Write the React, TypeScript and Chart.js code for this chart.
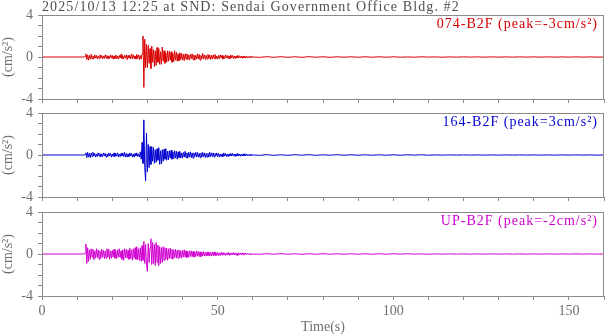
import React, { useEffect, useRef } from "react";
import { Chart, registerables } from "chart.js";

Chart.register(...registerables);

const TITLE = "2025/10/13 12:25 at SND: Sendai Government Office Bldg. #2";
const LABELS = ["074-B2F (peak=-3cm/s²)", "164-B2F (peak=3cm/s²)", "UP-B2F (peak=-2cm/s²)"];
const COLORS = ["#d80000", "#0000d0", "#d000d0"];
const X_TICK_LABELS = [0, 50, 100, 150];
const Y_TICK_LABELS = [-4, 0, 4];

// samples every 0.25 s from t = 12 s to t = 60 s (4 per row-second)
const ACTIVE_START = 12;
const ACTIVE_STEP = 0.25;
const ns074 = [
  0, 0.05, 0.3, -0.25, 0.2, -0.3, 0.15, -0.2, 0.25, -0.15, 0.1, -0.2, 0.2, -0.1, 0.15, -0.2,
  0.1, -0.15, 0.2, -0.1, 0.15, -0.2, 0.1, -0.15, 0.2, -0.1, 0.15, -0.2, 0.1, -0.15, 0.2, -0.1,
  0.15, -0.2, 0.1, -0.15, 0.2, -0.15, 0.1, -0.2, 0.15, -0.1, 0.25, -0.15, 0.1, -0.2, 0.15, -0.1,
  0.2, -0.25, 0.15, -0.1, 0.15, -0.2, 0.3, -0.15, 0.2, -0.15, 0.1, -0.2, 0.25, -0.15, 0.2, -0.25,
  0.15, -0.2, 0.3, 2.0, -2.9, 1.7, -1.0, 1.2, -1.0, 1.1, -0.6, 0.8, -1.1, 1.05, -0.5, 0.7,
  -0.9, 0.6, -0.8, 0.9, -0.5, 0.8, -0.7, 0.5, -0.7, 0.95, -0.4, 0.6, -0.6, 0.4, -0.5, 0.6,
  -0.4, 0.55, -0.3, 0.5, -0.5, 0.35, -0.45, 0.6, -0.3, 0.45, -0.4, 0.3, -0.35, 0.4, -0.25, 0.35,
  -0.3, 0.25, -0.35, 0.3, -0.2, 0.3, -0.25, 0.2, -0.3, 0.25, -0.15, 0.3, -0.25, 0.2, -0.3, 0.15,
  -0.2, 0.3, -0.2, 0.25, -0.3, 0.15, -0.2, 0.35, -0.15, 0.2, -0.25, 0.15, -0.2, 0.25, -0.15, 0.2,
  -0.25, 0.15, -0.2, 0.2, -0.15, 0.25, -0.2, 0.1, -0.2, 0.15, -0.15, 0.2, -0.1, 0.15, -0.2, 0.1,
  -0.15, 0.2, -0.1, 0.15, -0.15, 0.1, -0.15, 0.2, -0.1, 0.15, -0.15, 0.1, -0.15, 0.1, -0.1, 0.15,
  -0.1, 0.12, -0.08, 0.1, -0.12, 0.08, -0.1, 0.08, -0.08, 0.1, -0.1, 0.06, -0.08, 0.06, -0.05, 0.06,
  0,
];
const ew164 = [
  0, 0.05, 0.2, -0.25, 0.25, -0.2, 0.15, -0.25, 0.2, -0.15, 0.25, -0.1, 0.15, -0.2, 0.1, -0.15,
  0.2, -0.1, 0.15, -0.2, 0.1, -0.15, 0.2, -0.1, 0.15, -0.2, 0.1, -0.15, 0.2, -0.1, 0.15, -0.2,
  0.1, -0.15, 0.2, -0.15, 0.15, -0.1, 0.2, -0.2, 0.1, -0.15, 0.15, -0.1, 0.2, -0.15, 0.25, -0.2,
  0.15, -0.2, 0.1, -0.15, 0.2, -0.1, 0.15, -0.2, 0.1, -0.2, 0.15, -0.1, 0.2, -0.15, 0.1, -0.2,
  0.3, -0.4, 1.2, -0.8, 3.35, -1.2, -2.45, 2.1, -1.6, 1.0, -1.2, 0.8, -0.9, 0.8, -0.6, 0.7,
  -0.8, 0.5, -0.7, 0.6, -0.5, 0.7, -0.9, 0.4, -0.85, 0.5, -0.6, 0.55, -0.4, 0.6, -0.5, 0.35,
  -0.45, 0.4, -0.3, 0.45, -0.4, 0.3, -0.35, 0.4, -0.3, 0.35, -0.4, 0.3, -0.25, 0.35, -0.3, 0.2,
  -0.3, 0.25, -0.2, 0.35, -0.25, 0.2, -0.3, 0.25, -0.2, 0.3, -0.25, 0.2, -0.3, 0.2, -0.15, 0.25,
  -0.2, 0.25, -0.2, 0.15, -0.25, 0.2, -0.2, 0.25, -0.15, 0.2, -0.25, 0.15, -0.2, 0.15, -0.2, 0.25,
  -0.15, 0.2, -0.15, 0.2, -0.2, 0.15, -0.1, 0.2, -0.15, 0.15, -0.2, 0.1, -0.15, 0.1, -0.15, 0.2,
  -0.1, 0.15, -0.15, 0.1, -0.15, 0.1, -0.1, 0.15, -0.1, 0.15, -0.1, 0.1, -0.15, 0.1, -0.1, 0.15,
  -0.1, 0.1, -0.12, 0.08, -0.1, 0.1, -0.08, 0.12, -0.08, 0.1, -0.08, 0.06, -0.08, 0.05, -0.06, 0.06,
  0,
];
const ud = [
  0, 0.1, 0.95, -0.9, 0.6, -0.7, 0.4, -0.5, 0.5, -0.3, 0.45, -0.55, 0.3, -0.4, 0.5, -0.35,
  0.4, -0.5, 0.3, -0.4, 0.45, -0.3, 0.35, -0.45, 0.3, -0.4, 0.5, -0.3, 0.45, -0.5, 0.3, -0.4,
  0.35, -0.3, 0.45, -0.4, 0.3, -0.45, 0.4, -0.3, 0.5, -0.35, 0.3, -0.5, 0.4, -0.6, 0.5, -0.35,
  0.45, -0.4, 0.35, -0.5, 0.55, -0.45, 0.4, -0.6, 0.5, -0.4, 0.6, -0.5, 0.7, -0.55, 0.5, -0.6,
  0.6, -0.7, 0.8, -0.6, 1.2, -0.9, 0.9, -1.0, -1.65, 1.0, -0.8, 0.6, 1.45, -1.0, 1.1, -0.9,
  0.9, -1.1, 1.1, -0.8, 0.85, -1.1, 0.7, -0.9, 0.6, -0.8, 0.7, -0.6, 0.6, -0.5, 0.55, -0.6,
  0.5, -0.45, 0.55, -0.4, 0.45, -0.5, 0.4, -0.35, 0.45, -0.4, 0.35, -0.4, 0.4, -0.35, 0.3, -0.4,
  0.35, -0.3, 0.4, -0.3, 0.3, -0.35, 0.25, -0.3, 0.3, -0.25, 0.3, -0.25, 0.25, -0.3, 0.2, -0.25,
  0.3, -0.2, 0.25, -0.25, 0.2, -0.25, 0.2, -0.2, 0.25, -0.2, 0.15, -0.2, 0.2, -0.15, 0.2, -0.2,
  0.15, -0.2, 0.2, -0.15, 0.2, -0.15, 0.15, -0.15, 0.15, -0.15, 0.1, -0.15, 0.15, -0.1, 0.15, -0.1,
  0.1, -0.15, 0.1, -0.1, 0.15, -0.1, 0.1, -0.1, 0.1, -0.1, 0.15, -0.1, 0.1, -0.1, 0.1, -0.15,
  0.1, -0.08, 0.1, -0.1, 0.12, -0.08, 0.1, -0.08, 0.08, -0.05, 0.08, -0.06, 0.06, -0.06, 0.05, -0.06,
  0,
];

// samples every 2 s from t = 62 s to t = 160 s
const TAIL_START = 62;
const TAIL_STEP = 2;
const ns074Tail = [
  -0.03, 0.03, -0.03, 0.03, -0.03, 0.02, -0.03, 0.03, -0.02, 0.02, -0.03, 0.02, -0.02, 0.02, -0.02, 0.02,
  -0.02, 0.02, -0.02, 0.02, -0.02, 0.01, -0.02, 0.02, -0.01, 0.01, -0.02, 0.01, -0.01, 0.01, -0.01, 0.01,
  -0.01, 0.01, -0.01, 0.01, -0.01, 0.01, -0.01, 0.01, -0.01, 0.01, -0.01, 0.01, -0.01, 0.01, -0.01, 0.01,
  -0.01, 0.0,
];
const ew164Tail = [
  -0.03, 0.03, -0.03, 0.02, -0.03, 0.03, -0.02, 0.03, -0.03, 0.02, -0.02, 0.03, -0.02, 0.02, -0.02, 0.02,
  -0.02, 0.02, -0.02, 0.02, -0.02, 0.02, -0.01, 0.02, -0.02, 0.01, -0.01, 0.01, -0.01, 0.01, -0.01, 0.01,
  -0.01, 0.01, -0.01, 0.01, -0.01, 0.01, -0.01, 0.01, -0.01, 0.01, -0.01, 0.01, -0.01, 0.01, -0.01, 0.01,
  -0.01, 0.0,
];
const udTail = [
  -0.03, 0.03, -0.02, 0.03, -0.02, 0.02, -0.03, 0.02, -0.02, 0.03, -0.02, 0.02, -0.02, 0.02, -0.02, 0.02,
  -0.02, 0.02, -0.02, 0.02, -0.01, 0.02, -0.01, 0.01, -0.02, 0.01, -0.01, 0.01, -0.01, 0.01, -0.01, 0.01,
  -0.01, 0.01, -0.01, 0.01, -0.01, 0.01, -0.01, 0.01, -0.01, 0.01, -0.01, 0.01, -0.01, 0.01, -0.01, 0.01,
  -0.01, 0.0,
];

const SERIES = [
  { active: ns074, tail: ns074Tail },
  { active: ew164, tail: ew164Tail },
  { active: ud, tail: udTail },
];

const FONT = "'Liberation Serif', 'Times New Roman', serif";
const GRAY = "#6e6e6e";
const FRAME = "#8a8a8a";

function buildPoints(active: number[], tail: number[]) {
  const pts: { x: number; y: number }[] = [{ x: 0, y: 0 }];
  active.forEach((v, i) => pts.push({ x: ACTIVE_START + i * ACTIVE_STEP, y: v }));
  tail.forEach((v, i) => pts.push({ x: TAIL_START + i * TAIL_STEP, y: v }));
  return pts;
}

// panel layout: canvas top, canvas height, padding top, x axis height
const PANELS = [
  { top: 0, height: 106, padTop: 15, xH: 7 },
  { top: 106, height: 98, padTop: 7, xH: 7 },
  { top: 204, height: 130, padTop: 8, xH: 38 },
];

function Panel({ idx }: { idx: number }) {
  const ref = useRef<HTMLCanvasElement | null>(null);
  useEffect(() => {
    if (!ref.current) return;
    const p = PANELS[idx];
    const isLast = idx === PANELS.length - 1;
    const color = COLORS[idx];
    const decor = {
      id: "decor" + idx,
      afterDraw(chart: any) {
        const { ctx, chartArea } = chart;
        ctx.save();
        ctx.strokeStyle = FRAME;
        ctx.lineWidth = 1;
        ctx.strokeRect(
          Math.round(chartArea.left) + 0.5,
          Math.round(chartArea.top) + 0.5,
          Math.round(chartArea.right - chartArea.left) - 1,
          Math.round(chartArea.bottom - chartArea.top)
        );
        ctx.font = "14px " + FONT;
        (ctx as any).letterSpacing = "1px";
        ctx.fillStyle = color;
        ctx.textAlign = "right";
        ctx.textBaseline = "middle";
        ctx.fillText(LABELS[idx], chartArea.right - 6, chartArea.top + 9);
        if (idx === 0) {
          (ctx as any).letterSpacing = "1.1px";
          ctx.fillStyle = "#505050";
          ctx.textAlign = "left";
          ctx.font = "14px " + FONT;
          ctx.fillText(TITLE, chartArea.left, 7);
        }
        ctx.restore();
      },
    };
    const chart = new Chart(ref.current, {
      type: "line",
      data: {
        datasets: [
          {
            data: buildPoints(SERIES[idx].active, SERIES[idx].tail),
            borderColor: color,
            borderWidth: 1,
            pointRadius: 0,
            tension: 0,
            fill: false,
          },
        ],
      },
      options: {
        animation: false,
        responsive: false,
        maintainAspectRatio: false,
        layout: { padding: { top: p.padTop, right: 1, left: 0, bottom: 0 } },
        plugins: { legend: { display: false }, tooltip: { enabled: false }, title: { display: false } },
        scales: {
          x: {
            type: "linear",
            min: 0,
            max: 160,
            afterFit: (s: any) => {
              s.height = p.xH;
              s.paddingLeft = 0;
              s.paddingRight = 0;
            },
            border: { display: false },
            grid: { drawOnChartArea: false, drawTicks: true, tickLength: 4, color: FRAME },
            ticks: {
              stepSize: 10,
              autoSkip: false,
              maxRotation: 0,
              padding: 3,
              color: GRAY,
              font: { family: FONT, size: 14 },
              callback: (v: any) => (isLast && X_TICK_LABELS.includes(Number(v)) ? String(v) : ""),
            },
            title: {
              display: isLast,
              text: "Time(s)",
              color: GRAY,
              font: { family: FONT, size: 14, lineHeight: 1 },
              padding: { top: 0, bottom: 0 },
            },
          },
          y: {
            min: -4,
            max: 4,
            afterFit: (s: any) => {
              s.width = 42;
              s.paddingTop = 0;
              s.paddingBottom = 0;
            },
            border: { display: false },
            grid: { drawOnChartArea: false, drawTicks: true, tickLength: 4, color: FRAME },
            ticks: {
              stepSize: 1,
              autoSkip: false,
              padding: 5,
              color: GRAY,
              font: { family: FONT, size: 14 },
              callback: (v: any) => (Y_TICK_LABELS.includes(Number(v)) ? String(v) : ""),
            },
            title: {
              display: true,
              text: "(cm/s²)",
              color: GRAY,
              font: { family: FONT, size: 14 },
              padding: { top: 0, bottom: 0 },
            },
          },
        },
      },
      plugins: [decor],
    });
    return () => chart.destroy();
  }, [idx]);
  const p = PANELS[idx];
  return (
    <canvas
      ref={ref}
      width={605}
      height={p.height}
      style={{ position: "absolute", left: 0, top: p.top, width: 605, height: p.height }}
    />
  );
}

export default function App() {
  return (
    <div style={{ position: "fixed", left: 0, top: 0, width: 605, height: 334, background: "#fff" }}>
      {PANELS.map((_, i) => (
        <Panel key={i} idx={i} />
      ))}
    </div>
  );
}
